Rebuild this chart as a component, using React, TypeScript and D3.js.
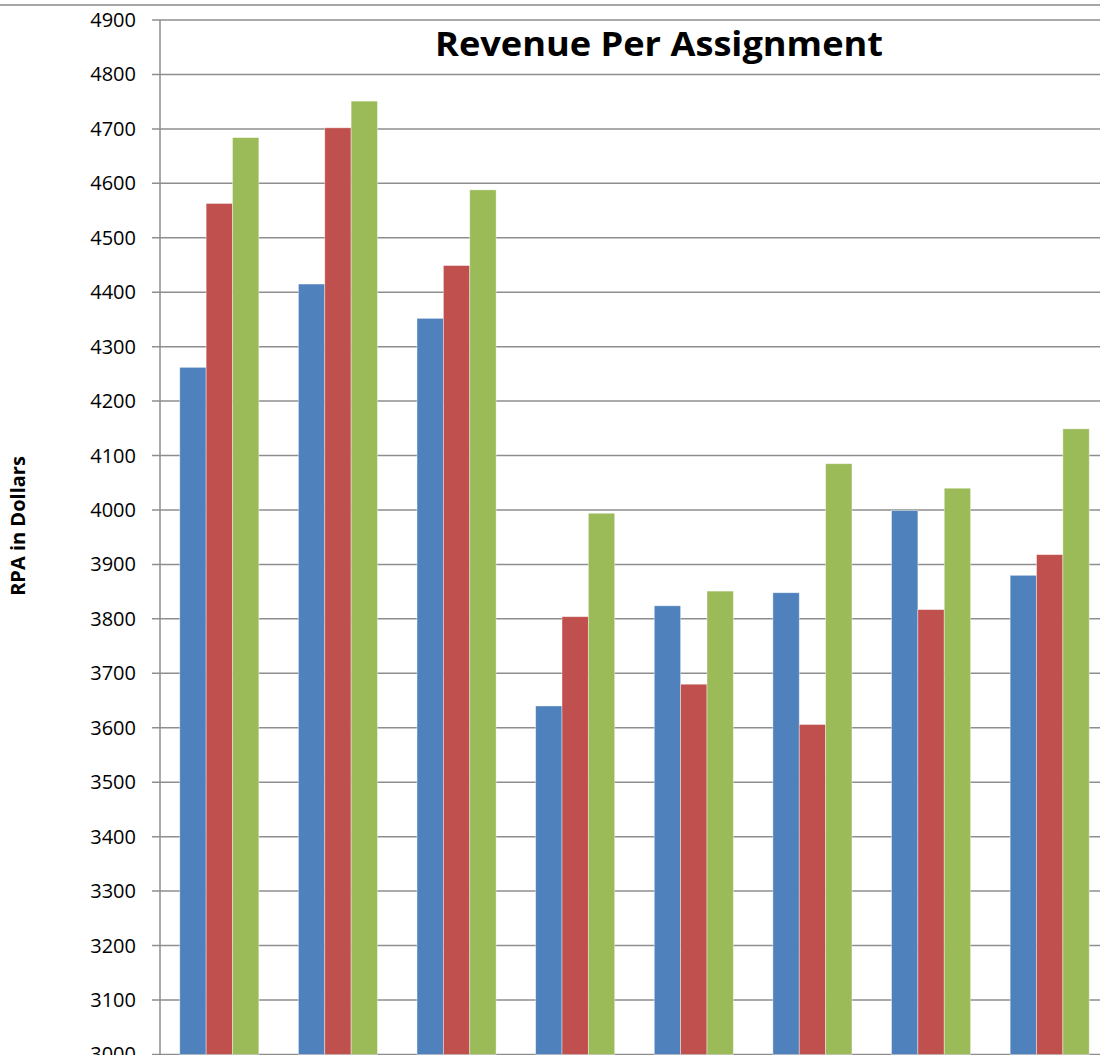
import React from 'react';
import * as d3 from 'd3';

// values (x labels are cropped out of the picture)
const categories = ['1', '2', '3', '4', '5', '6', '7', '8'];
const seriesNames = ['Series 1', 'Series 2', 'Series 3'];
const series1 = [4262, 4415, 4352, 3640, 3824, 3848, 3999, 3880];
const series2 = [4563, 4702, 4449, 3804, 3680, 3606, 3817, 3918];
const series3 = [4684, 4751, 4588, 3994, 3851, 4085, 4040, 4149];
const yTicks = [3000, 3100, 3200, 3300, 3400, 3500, 3600, 3700, 3800, 3900, 4000, 4100, 4200, 4300, 4400, 4500, 4600, 4700, 4800, 4900];

const colors = ['#4F81BD', '#C0504D', '#9BBB59'];
const allSeries = [series1, series2, series3];

const width = 1100;
const height = 1055;
const font = '"Open Sans", "DejaVu Sans", sans-serif';

export default function App() {
  const x = d3.scaleBand<string>().domain(categories).range([160, 1109]).padding(0);
  const bw = x.bandwidth();
  // Excel-like gap width of 150%
  const barW = bw / 4.5;
  const xs = d3.scaleBand<string>().domain(seriesNames).range([barW * 0.75, bw - barW * 0.75]).padding(0);
  const y = d3.scaleLinear().domain([3000, 4900]).range([1054.4, 20]);

  return (
    <svg width={width} height={height} style={{ position: 'absolute', left: 0, top: 0, background: '#fff' }}>
      <line x1={0} x2={width} y1={5} y2={5} stroke="#a6a6a6" strokeWidth={2} />

      {/* gridlines + ticks */}
      {yTicks.map(t => (
        <g key={t}>
          <line x1={152} x2={width} y1={y(t)} y2={y(t)} stroke="#8e8e8e" strokeWidth={1.5} />
          <text x={136} y={y(t)} dy="0.35em" textAnchor="end" fontFamily={font} fontSize={20} fill="#000">
            {t}
          </text>
        </g>
      ))}
      <line x1={160} x2={160} y1={20} y2={height} stroke="#8e8e8e" strokeWidth={1.5} />

      {/* bars */}
      {categories.map((c, i) => (
        <g key={c} transform={`translate(${x(c)},0)`}>
          {allSeries.map((s, j) => (
            <rect
              key={j}
              x={xs(seriesNames[j])}
              y={y(s[i])}
              width={xs.bandwidth()}
              height={y(3000) - y(s[i])}
              fill={colors[j]}
              stroke="rgba(255,255,255,0.5)"
              strokeWidth={0.8}
            />
          ))}
        </g>
      ))}

      <text
        x={659}
        y={56}
        textAnchor="middle"
        fontFamily={font}
        fontWeight="bold"
        fontSize={34}
        textLength={448}
        lengthAdjust="spacingAndGlyphs"
        fill="#000"
      >
        Revenue Per Assignment
      </text>
      <text
        transform="translate(25,526) rotate(-90)"
        textAnchor="middle"
        fontFamily={font}
        fontWeight="bold"
        fontSize={20}
        fill="#000"
      >
        RPA in Dollars
      </text>
    </svg>
  );
}
